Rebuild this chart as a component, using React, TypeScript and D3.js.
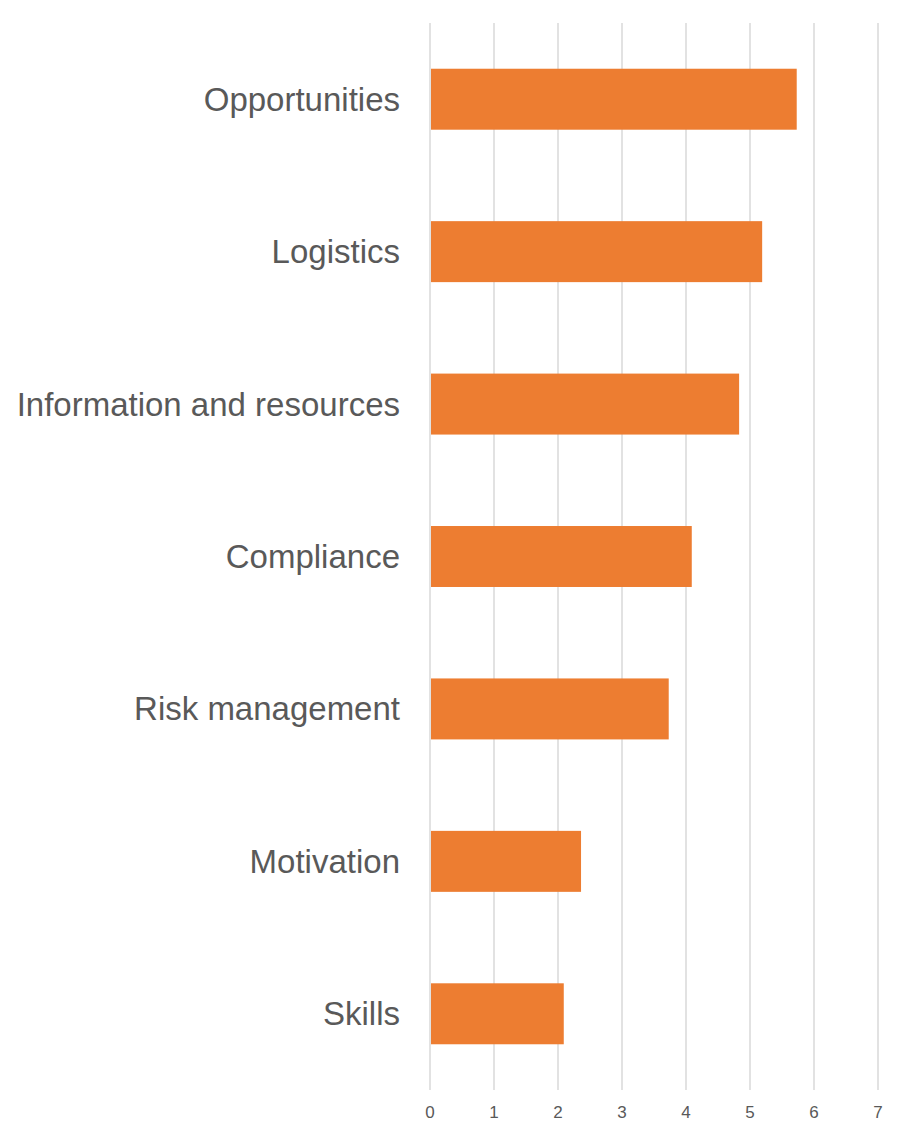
import React from 'react';
import * as d3 from 'd3';

const categories = ['Opportunities', 'Logistics', 'Information and resources', 'Compliance', 'Risk management', 'Motivation', 'Skills'];
const values = [5.73, 5.19, 4.83, 4.09, 3.73, 2.36, 2.09];
const ticks = [0, 1, 2, 3, 4, 5, 6, 7];

const width = 906, height = 1137;
const margin = {top: 23, right: 28, bottom: 47, left: 430};

export default function App() {
    const innerW = width - margin.left - margin.right;
    const innerH = height - margin.top - margin.bottom;

    const x = d3.scaleLinear().domain([0, 7]).range([0, innerW]);
    const y = d3.scaleBand<string>()
        .domain(categories)
        .range([0, innerH])
        .paddingInner(0.6)
        .paddingOuter(0.3);

    return (
        <svg width={width} height={height}
             style={{position: 'absolute', left: 0, top: 0, fontFamily: 'Liberation Sans, Arial, sans-serif'}}>
            <g transform={`translate(${margin.left}, ${margin.top})`}>
                {ticks.map(t => (
                    <line key={t} x1={x(t)} x2={x(t)} y1={0} y2={innerH} stroke="#d9d9d9" strokeWidth={1.5}/>
                ))}
                {categories.map((c, i) => (
                    <rect key={c} x={x(0) + 1} y={y(c)} width={x(values[i]) - x(0) - 1}
                          height={y.bandwidth()} fill="#ed7d31"/>
                ))}
                {categories.map(c => (
                    <text key={c} x={-30} y={y(c)! + y.bandwidth() / 2} dy="0.35em"
                          textAnchor="end" fontSize={33} fill="#595959">{c}</text>
                ))}
                {ticks.map(t => (
                    <text key={t} x={x(t)} y={innerH + 22} dy="0.35em" textAnchor="middle"
                          fontSize={17} fill="#595959">{t}</text>
                ))}
            </g>
        </svg>
    );
}
